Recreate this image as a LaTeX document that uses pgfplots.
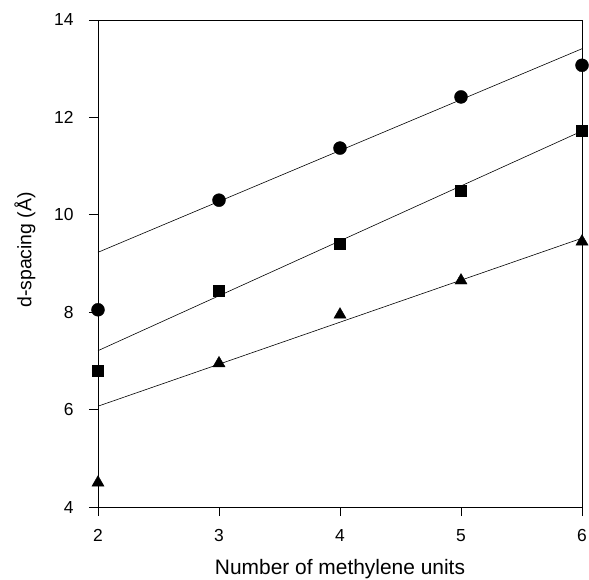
\documentclass[border=0pt]{standalone}
\usepackage{pgfplots}
\pgfplotsset{compat=1.18}
\usepackage{fontspec}
\setmainfont{Liberation Sans}
\begin{document}
\begin{tikzpicture}
\begin{axis}[
  scale only axis,
  width=484bp, height=487bp,
  xmin=2, xmax=6, ymin=4, ymax=14,
  xtick={2,3,4,5,6}, ytick={4,6,8,10,12,14},
  tick align=outside,
  xtick pos=bottom, ytick pos=left,
  major tick length=9bp,
  axis line style={line width=0.8pt},
  tick style={line width=0.8pt, black},
  /pgf/number format/assume math mode=true,
  tick label style={font=\fontsize{17.5}{20}\selectfont},
  yticklabel style={xshift=-12bp},
  xticklabel style={yshift=-10bp},
  xlabel={Number of methylene units},
  ylabel={d-spacing (Å)},
  xlabel style={font=\fontsize{21}{24}\selectfont, at={(axis description cs:0.5,0)}, anchor=base, yshift=-67bp},
  ylabel style={font=\fontsize{19.5}{24}\selectfont, at={(axis description cs:-0.151,0.528)}, anchor=center},
  clip=false,
]
% fit lines
\addplot[black, line width=0.6pt, no markers] coordinates {(2,9.23) (6,13.41)};
\addplot[black, line width=0.6pt, no markers] coordinates {(2,7.21) (6,11.72)};
\addplot[black, line width=0.6pt, no markers] coordinates {(2,6.07) (6,9.52)};
% data
\addplot[only marks, mark=*, mark size=6.5bp, black] coordinates {(2,8.05) (3,10.3) (4,11.37) (5,12.42) (6,13.07)};
\addplot[only marks, mark=square*, mark size=5.5bp, black] coordinates {(2,6.8) (3,8.45) (4,9.4) (5,10.5) (6,11.72)};
\addplot[only marks, mark=triangle*, mark size=7bp, black] coordinates {(2,4.5) (3,6.95) (4,7.95) (5,8.65) (6,9.45)};
\end{axis}
\pgfresetboundingbox
\path[use as bounding box] ([shift={(-98bp,-72bp)}]current axis.south west) rectangle ([shift={(7bp,20bp)}]current axis.north east);
\end{tikzpicture}
\end{document}
